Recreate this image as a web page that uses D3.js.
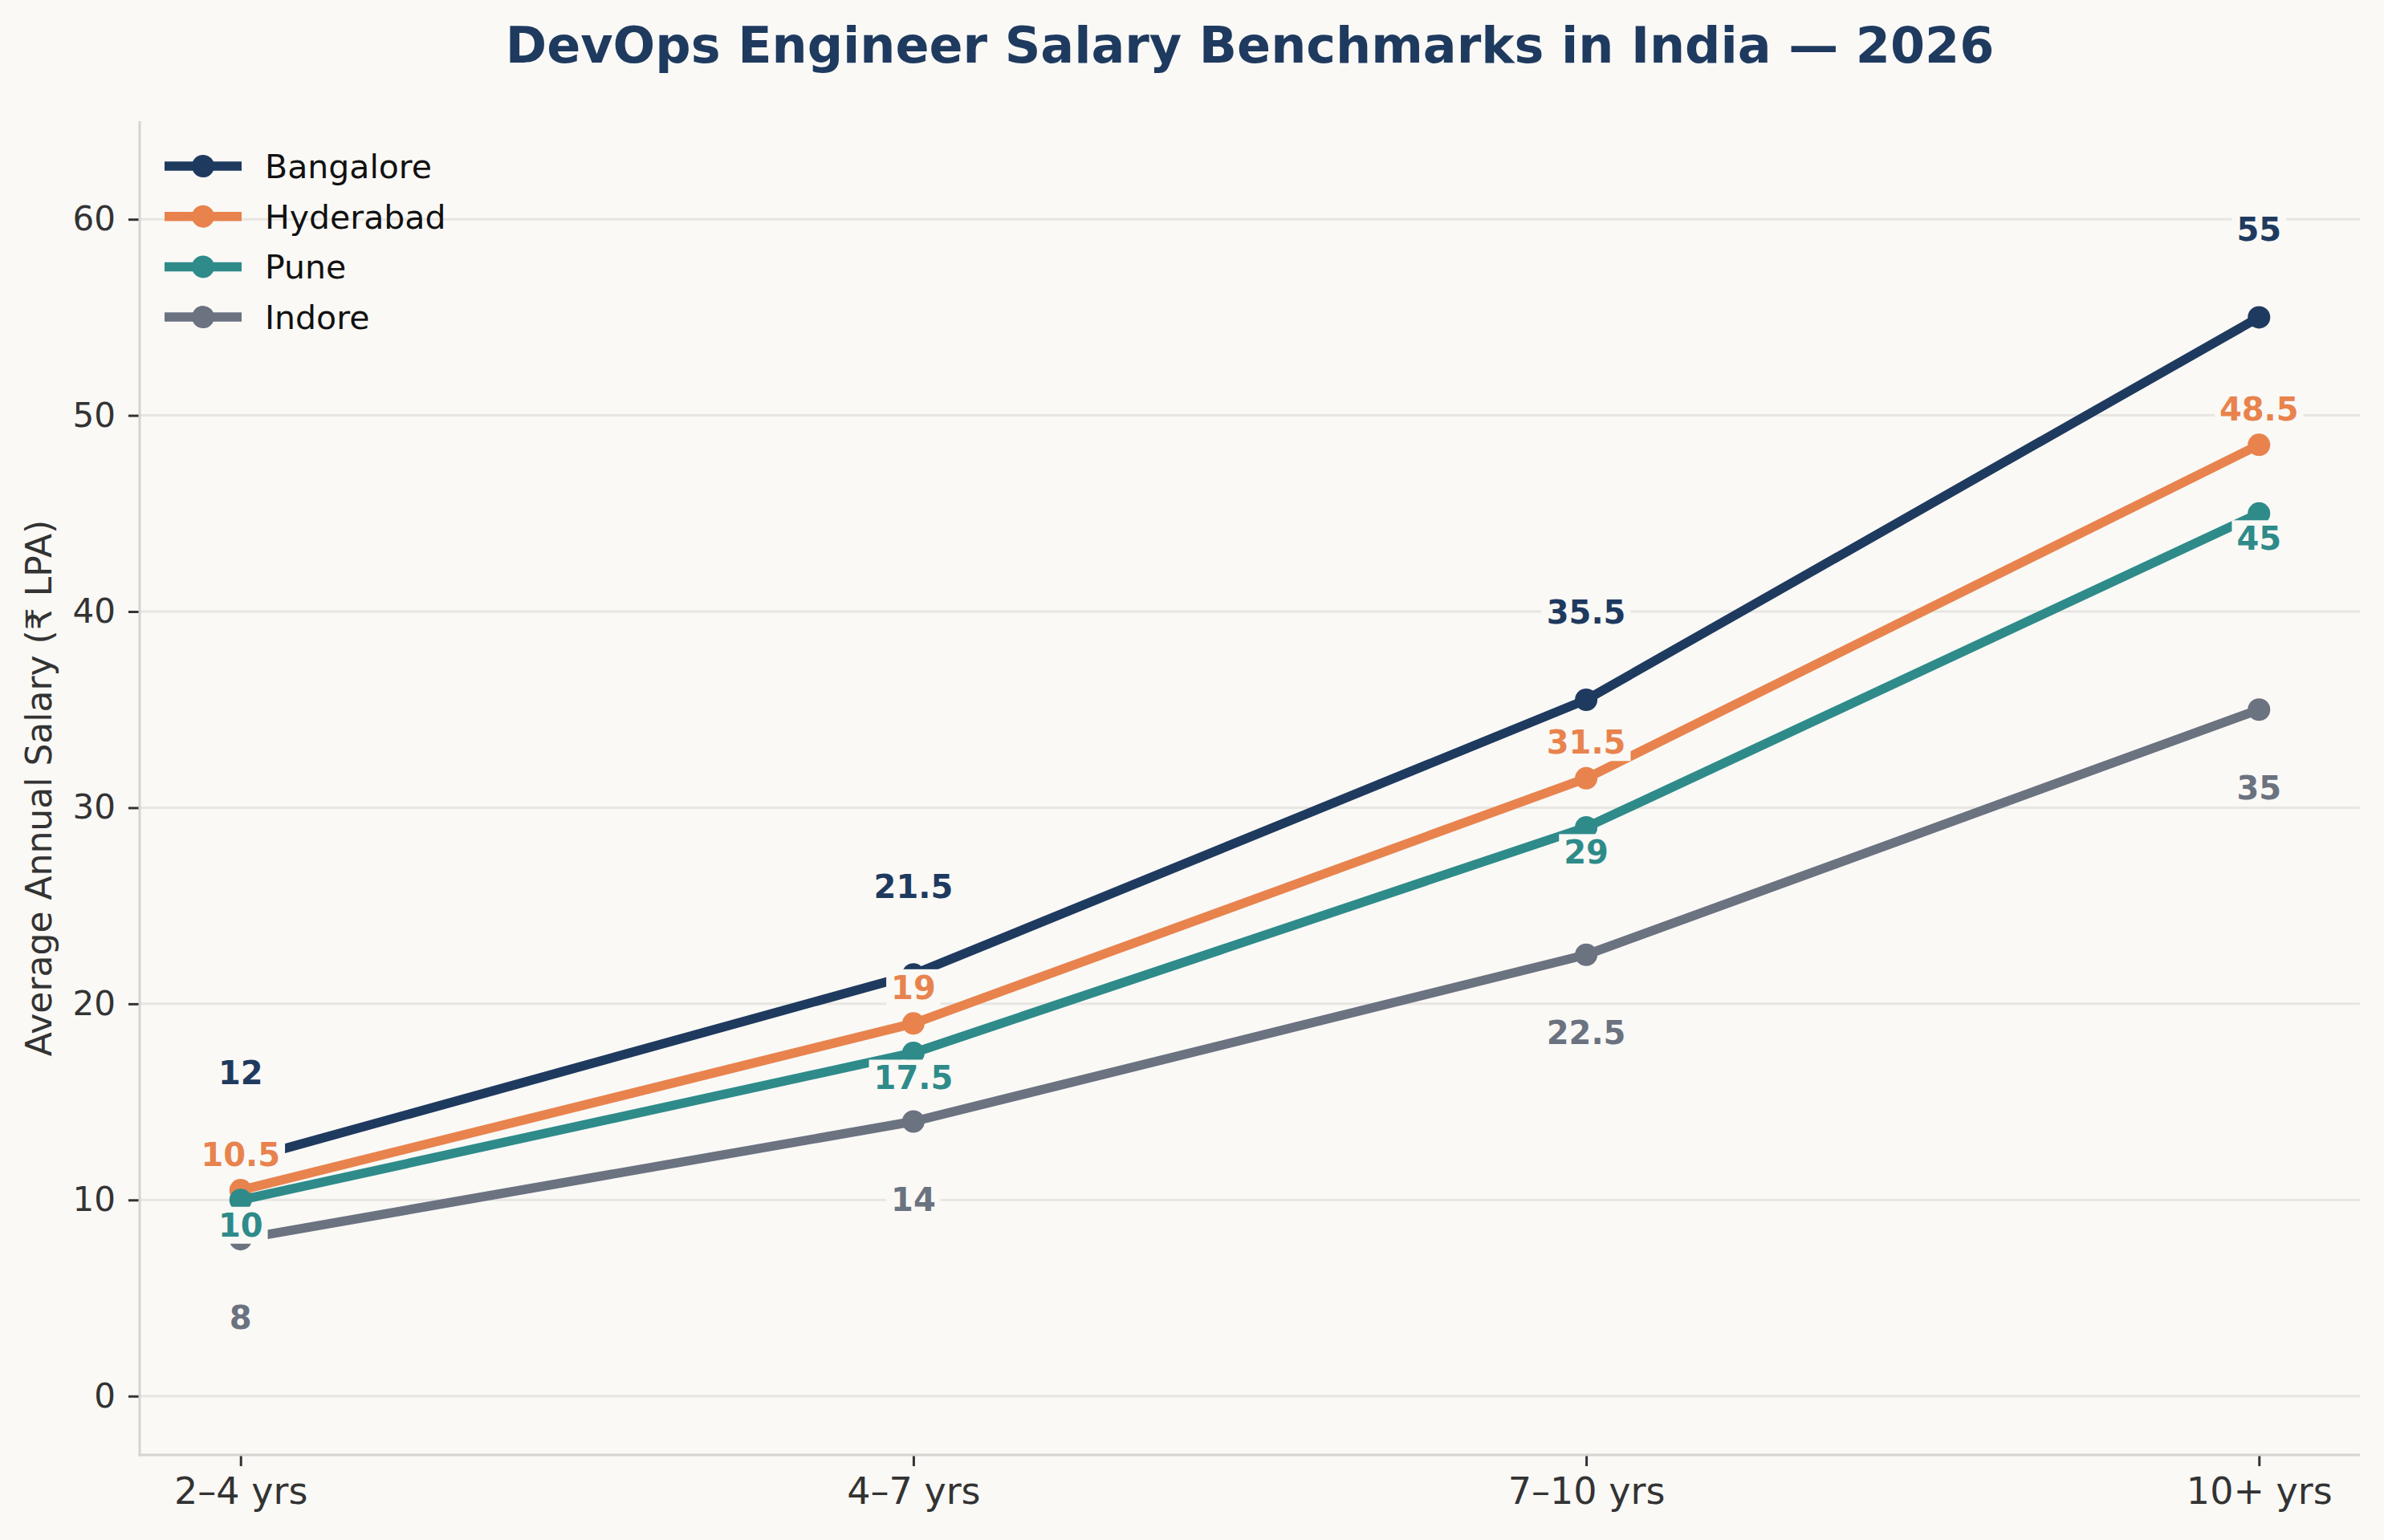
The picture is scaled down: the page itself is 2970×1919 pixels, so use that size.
<!DOCTYPE html>
<html>
<head>
<meta charset="utf-8">
<script src="https://cdn.jsdelivr.net/npm/d3@7"></script>
<style>
  html, body { margin: 0; padding: 0; background: #faf9f6; }
  svg { display: block; font-family: "DejaVu Sans", sans-serif; }
</style>
</head>
<body>
<svg id="chart" width="2970" height="1919"></svg>
<script>
// ---- data ----
const categories = ["2–4 yrs", "4–7 yrs", "7–10 yrs", "10+ yrs"];
const cities = ["Bangalore", "Hyderabad", "Pune", "Indore"];
const bangalore = [12, 21.5, 35.5, 55];
const hyderabad = [10.5, 19, 31.5, 48.5];
const pune = [10, 17.5, 29, 45];
const indore = [8, 14, 22.5, 35];
const yTicks = [0, 10, 20, 30, 40, 50, 60];
const titleText = "DevOps Engineer Salary Benchmarks in India — 2026";
const yLabelText = "Average Annual Salary (₹ LPA)";

// ---- styles ----
const seriesValues = [bangalore, hyderabad, pune, indore];
const colors = ["#1f3a5f", "#e8834e", "#2e8b8a", "#6b7280"];
const labelOffsets = [-110, -45, 31, 97]; // px, label centre relative to point
const bg = "#faf9f6";

const W = 2970, H = 1919;
const m = { left: 174, right: 2940, top: 151, bottom: 1813 };

const svg = d3.select("#chart");
svg.append("rect").attr("width", W).attr("height", H).attr("fill", bg);

const x = d3.scalePoint().domain(categories).range([m.left, m.right]).padding(0.15);
const y = d3.scaleLinear().domain([-3, 65]).range([m.bottom, m.top]);

// grid
svg.append("g").selectAll("line").data(yTicks).join("line")
  .attr("x1", m.left).attr("x2", m.right)
  .attr("y1", d => y(d)).attr("y2", d => y(d))
  .attr("stroke", "#e8e6e2").attr("stroke-width", 3);

// y axis
const yAxis = svg.append("g").attr("transform", `translate(${m.left},0)`)
  .call(d3.axisLeft(y).tickValues(yTicks).tickSize(14).tickPadding(16));
yAxis.select(".domain").remove();
yAxis.selectAll(".tick line").attr("stroke", "#333").attr("stroke-width", 3);
yAxis.selectAll(".tick text").attr("fill", "#333").attr("font-size", 42)
  .attr("font-family", "DejaVu Sans");

// x axis
const xAxis = svg.append("g").attr("transform", `translate(0,${m.bottom})`)
  .call(d3.axisBottom(x).tickSize(14).tickPadding(14));
xAxis.select(".domain").remove();
xAxis.selectAll(".tick line").attr("stroke", "#333").attr("stroke-width", 3);
xAxis.selectAll(".tick text").attr("fill", "#333").attr("font-size", 46)
  .attr("font-family", "DejaVu Sans");

// spines
svg.append("line").attr("x1", m.left).attr("x2", m.left).attr("y1", m.top).attr("y2", m.bottom + 1.5)
  .attr("stroke", "#d6d4d0").attr("stroke-width", 3);
svg.append("line").attr("x1", m.left - 1.5).attr("x2", m.right).attr("y1", m.bottom).attr("y2", m.bottom)
  .attr("stroke", "#d6d4d0").attr("stroke-width", 3);

// lines
const line = d3.line().x((d, i) => x(categories[i])).y(d => y(d));
seriesValues.forEach((vals, s) => {
  const g = svg.append("g");
  g.append("path").datum(vals).attr("d", line)
    .attr("fill", "none").attr("stroke", colors[s]).attr("stroke-width", 11.5)
    .attr("stroke-linejoin", "round").attr("stroke-linecap", "butt");
  g.selectAll("circle").data(vals).join("circle")
    .attr("cx", (d, i) => x(categories[i])).attr("cy", d => y(d)).attr("r", 14)
    .attr("fill", colors[s]);
});

// value labels
seriesValues.forEach((vals, s) => {
  vals.forEach((v, i) => {
    const g = svg.append("g");
    const t = g.append("text")
      .attr("x", x(categories[i])).attr("y", y(v) + labelOffsets[s] + 14.5)
      .attr("text-anchor", "middle").attr("font-size", 40).attr("font-weight", "bold")
      .attr("fill", colors[s]).text(String(v));
    const b = t.node().getBBox();
    g.insert("rect", "text").attr("x", b.x - 6).attr("y", b.y).attr("width", b.width + 12)
      .attr("height", b.height).attr("fill", bg);
  });
});

// title
svg.append("text").attr("x", (m.left + m.right) / 2).attr("y", 78)
  .attr("text-anchor", "middle").attr("font-size", 62).attr("font-weight", "bold")
  .attr("fill", "#1f3a5f").text(titleText);

// y label
svg.append("text").attr("transform", `translate(64,${(m.top + m.bottom) / 2}) rotate(-90)`)
  .attr("text-anchor", "middle").attr("font-size", 44).attr("fill", "#333").text(yLabelText);

// legend
const leg = svg.append("g");
cities.forEach((c, s) => {
  const cy = 207 + s * 62.7;
  leg.append("line").attr("x1", 205).attr("x2", 301).attr("y1", cy).attr("y2", cy)
    .attr("stroke", colors[s]).attr("stroke-width", 11.5);
  leg.append("circle").attr("cx", 253).attr("cy", cy).attr("r", 14).attr("fill", colors[s]);
  leg.append("text").attr("x", 330).attr("y", cy + 15).attr("font-size", 41)
    .attr("fill", "#111").text(c);
});
</script>
</body>
</html>
